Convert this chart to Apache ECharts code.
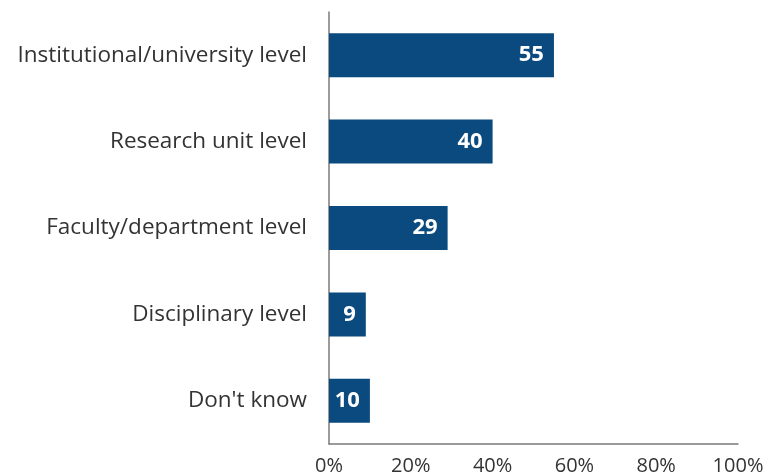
<!DOCTYPE html>
<html><head><meta charset="utf-8">
<script src="https://cdn.jsdelivr.net/npm/echarts@6/dist/echarts.min.js"></script>
<style>html,body{margin:0;padding:0;background:#fff}#c{width:765px;height:475px}</style>
</head><body><div id="c"></div>
<script>
const categories = ["Institutional/university level","Research unit level","Faculty/department level","Disciplinary level","Don't know"];
const values = [55, 40, 29, 9, 10];
const xTicks = [0, 20, 40, 60, 80, 100];

const chart = echarts.init(document.getElementById('c'));
chart.setOption({
  animation: false,
  grid: {left: 329, right: 27, top: 12, bottom: 31, containLabel: false, outerBoundsMode: 'none'},
  xAxis: {
    type: 'value', min: 0, max: 100, interval: 20,
    axisLine: {show: true, lineStyle: {color: '#7a7a7a', width: 1.5}},
    axisTick: {show: false}, splitLine: {show: false},
    axisLabel: {formatter: v => v + '%', color: '#333', fontSize: 20, fontFamily: 'Open Sans', margin: 12}
  },
  yAxis: {
    type: 'category', data: categories, inverse: true,
    axisLine: {show: true, lineStyle: {color: '#7a7a7a', width: 1.5}},
    axisTick: {show: false},
    axisLabel: {color: '#333', fontSize: 22.5, fontFamily: 'Open Sans', margin: 22}
  },
  series: [{
    type: 'bar', data: values, barWidth: 44,
    itemStyle: {color: '#0b4a7f'},
    label: {show: true, position: 'insideRight', distance: 10, color: '#fff', fontWeight: 'bold', fontSize: 22, fontFamily: 'Open Sans'}
  }]
});
</script></body></html>
